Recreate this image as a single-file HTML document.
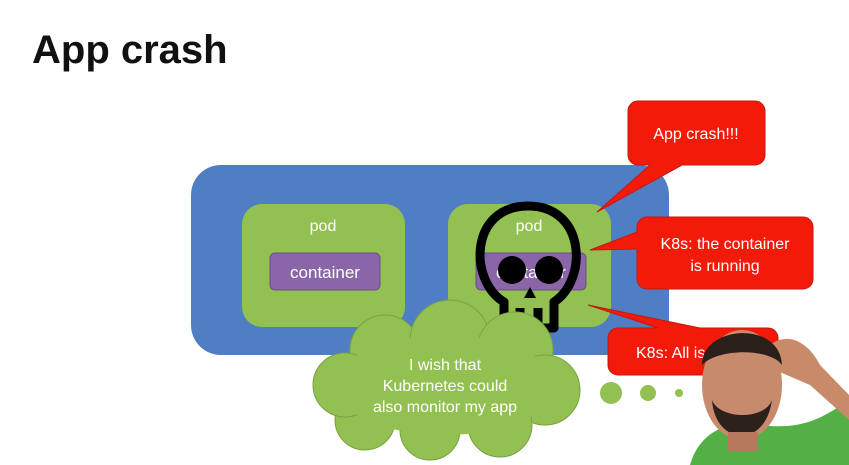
<!DOCTYPE html>
<html><head><meta charset="utf-8"><style>
html,body{margin:0;padding:0;background:#fff;width:849px;height:465px;overflow:hidden}
svg{display:block}
text{font-family:"Liberation Sans",sans-serif}
</style></head><body>
<svg width="849" height="465" viewBox="0 0 849 465" xmlns="http://www.w3.org/2000/svg">
<rect width="849" height="465" fill="#fff"/>
<text x="32" y="63" font-size="40" font-weight="bold" fill="#111">App crash</text>

<rect x="191" y="165" width="478" height="190" rx="30" fill="#4f7ec4"/>
<rect x="242" y="204" width="163" height="123" rx="20" fill="#92c152"/>
<rect x="448" y="204" width="163" height="123" rx="20" fill="#92c152"/>
<text x="323" y="231" font-size="16" fill="#fff" text-anchor="middle">pod</text>
<text x="529" y="231" font-size="16" fill="#fff" text-anchor="middle">pod</text>
<rect x="270" y="253" width="110" height="37" rx="5" fill="#8a66a8" stroke="#6a4f85"/>
<rect x="476" y="253" width="110" height="37" rx="5" fill="#8a66a8" stroke="#6a4f85"/>
<text x="325" y="278" font-size="17" fill="#fff" text-anchor="middle">container</text>
<text x="531" y="278" font-size="17" fill="#fff" text-anchor="middle">container</text>

<g fill="none" stroke="#000" stroke-width="9" stroke-linejoin="round">
<path d="M504,302 C468,280 470,206 528,206 C586,206 588,280 554,302 L554,328 L504,328 Z"/>
<line x1="520" y1="308" x2="520" y2="328"/>
<line x1="538" y1="308" x2="538" y2="328"/>
</g>
<circle cx="512" cy="270" r="14" fill="#000"/>
<circle cx="549" cy="270" r="14" fill="#000"/>
<path d="M530,287 L524,298 L536,298 Z" fill="#000"/>

<g fill="#f41a0a" stroke="#c01a10" stroke-width="1">
<path d="M638,101 h117 a10,10 0 0 1 10,10 v44 a10,10 0 0 1 -10,10 h-73 L597,212 L650,165 h-12 a10,10 0 0 1 -10,-10 v-44 a10,10 0 0 1 10,-10 Z"/>
<path d="M647,217 h156 a10,10 0 0 1 10,10 v52 a10,10 0 0 1 -10,10 h-156 a10,10 0 0 1 -10,-10 v-30 L590,250 L637,232 v-5 a10,10 0 0 1 10,-10 Z"/>
<path d="M618,328 h40 L588,305 L700,328 h68 a10,10 0 0 1 10,10 v27 a10,10 0 0 1 -10,10 h-150 a10,10 0 0 1 -10,-10 v-27 a10,10 0 0 1 10,-10 Z"/>
</g>
<text x="696" y="139" font-size="16" fill="#fff" text-anchor="middle">App crash!!!</text>
<text x="725" y="249" font-size="16" fill="#fff" text-anchor="middle">K8s: the container</text>
<text x="725" y="271" font-size="16" fill="#fff" text-anchor="middle">is running</text>
<text x="636" y="358" font-size="16" fill="#fff">K8s: All is fine</text>

<g fill="#92c152" stroke="#7aa043" stroke-width="1">
<circle cx="385" cy="350" r="35"/>
<circle cx="450" cy="340" r="40"/>
<circle cx="515" cy="350" r="38"/>
<circle cx="545" cy="390" r="35"/>
<circle cx="500" cy="425" r="32"/>
<circle cx="430" cy="430" r="30"/>
<circle cx="365" cy="420" r="30"/>
<circle cx="345" cy="385" r="32"/>
</g>
<ellipse cx="445" cy="385" rx="110" ry="50" fill="#92c152"/>
<text x="445" y="370" font-size="16" fill="#fff" text-anchor="middle">I wish that</text>
<text x="445" y="391" font-size="16" fill="#fff" text-anchor="middle">Kubernetes could</text>
<text x="445" y="412" font-size="16" fill="#fff" text-anchor="middle">also monitor my app</text>
<g fill="#92c152"><circle cx="611" cy="393" r="11"/><circle cx="648" cy="393" r="8"/><circle cx="679" cy="393" r="4"/></g>

<path d="M690,465 C700,430 730,420 760,425 C800,430 820,420 849,400 L849,465 Z" fill="#52b044"/>
<path d="M770,345 C790,330 810,345 820,365 L849,395 L849,420 L810,385 L775,370 Z" fill="#c98a6a"/>
<ellipse cx="742" cy="385" rx="40" ry="55" fill="#c88a6c"/>
<path d="M702,365 C702,325 780,320 782,365 C770,348 718,348 702,365 Z" fill="#2a1f1a"/>
<path d="M712,400 C715,445 765,450 772,400 C765,420 720,420 712,400 Z" fill="#2d211b"/>
<rect x="728" y="432" width="30" height="20" fill="#b57a5e"/>
</svg>
</body></html>
